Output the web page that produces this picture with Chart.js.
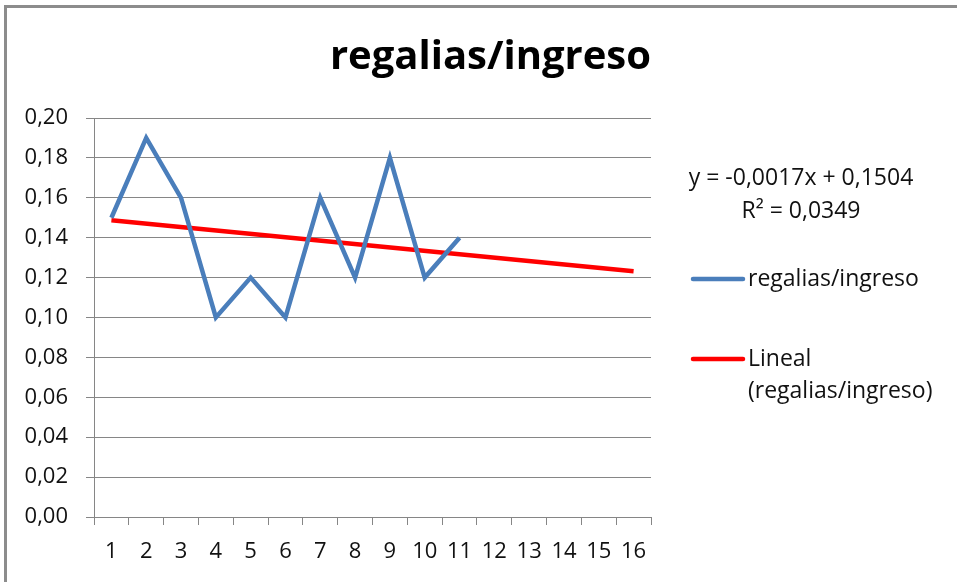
<!DOCTYPE html>
<html>
<head>
<meta charset="utf-8">
<script src="https://cdn.jsdelivr.net/npm/chart.js@4"></script>
<style>
  html, body { margin: 0; padding: 0; background: #fff; }
  #wrap { width: 957px; height: 582px; }
</style>
</head>
<body>
<div id="wrap"><canvas id="lineChart" width="957" height="582"></canvas></div>
<script>
// datos
const categories = ["1","2","3","4","5","6","7","8","9","10","11","12","13","14","15","16"];
const ratioValues = [0.15, 0.19, 0.16, 0.10, 0.12, 0.10, 0.16, 0.12, 0.18, 0.12, 0.14];
const trendCats = ["1", "16"];
const trendValues = [0.1487, 0.1232];
const yTicks = { min: 0, max: 0.20, step: 0.02 };
const equationLines = ["y = -0,0017x + 0,1504", "R² = 0,0349"];

const FONT = "'Open Sans', sans-serif";
const GRAY = "#868686";
const TEXT = "#111";

// marco y leyenda personalizada (estilo Excel)
const excelLegend = {
  id: "excelLegend",
  beforeDraw(chart) {
    const c = chart.ctx;
    c.save();
    c.fillStyle = "#fff";
    c.fillRect(0, 0, chart.width, chart.height);
    c.fillStyle = "#8c8c8c";
    c.fillRect(4, 5, chart.width - 4, 3);
    c.fillRect(4, 5, 3, chart.height - 5);
    c.restore();
  },
  afterDraw(chart) {
    const c = chart.ctx;
    c.save();
    c.font = "23px " + FONT;
    c.fillStyle = TEXT;
    c.textBaseline = "middle";
    c.textAlign = "center";
    c.fillText(equationLines[0], 801, 178);
    c.fillText(equationLines[1], 801, 211);

    const items = [
      { ds: chart.data.datasets[0], y: 279, lines: ["regalias/ingreso"] },
      { ds: chart.data.datasets[1], y: 359, lines: ["Lineal", "(regalias/ingreso)"] },
    ];
    c.textAlign = "left";
    items.forEach(it => {
      c.strokeStyle = it.ds.borderColor;
      c.lineWidth = 4.5;
      c.lineCap = "round";
      c.beginPath();
      c.moveTo(693, it.y);
      c.lineTo(743, it.y);
      c.stroke();
      it.lines.forEach((t, i) => c.fillText(t, 748, it.y + i * 32));
    });
    c.restore();
  }
};

const ctx = document.getElementById("lineChart").getContext("2d");
const chart = new Chart(ctx, {
  type: "line",
  data: {
    labels: categories,
    datasets: [
      {
        label: "regalias/ingreso",
        data: ratioValues,
        borderColor: "#4a7ebb",
        borderWidth: 4.5,
        pointRadius: 0,
        tension: 0,
        borderJoinStyle: "miter",
      },
      {
        label: "Lineal (regalias/ingreso)",
        data: trendCats.map((x, i) => ({ x: x, y: trendValues[i] })),
        borderColor: "#ff0000",
        borderWidth: 4.5,
        pointRadius: 0,
        tension: 0,
      },
    ],
  },
  options: {
    responsive: false,
    animation: false,
    layout: { padding: { left: 0, right: 306, top: 0, bottom: 0 } },
    plugins: {
      legend: { display: false },
      tooltip: { enabled: false },
      title: {
        display: true,
        align: "end",
        text: "regalias/ingreso",
        color: "#000",
        font: { family: FONT, size: 40, weight: "bold" },
        padding: { top: 34, bottom: 36 },
      },
    },
    scales: {
      x: {
        offset: true,
        grid: { offset: true, drawOnChartArea: false, drawTicks: true, tickLength: 8, color: GRAY },
        border: { color: GRAY, width: 1 },
        ticks: { color: TEXT, font: { family: FONT, size: 22 }, padding: 14, maxRotation: 0, autoSkip: false },
        afterFit: s => { s.height = 65; },
      },
      y: {
        min: yTicks.min,
        max: yTicks.max,
        grid: { color: GRAY, tickLength: 8 },
        border: { color: GRAY, width: 1 },
        ticks: {
          stepSize: yTicks.step,
          color: TEXT,
          font: { family: FONT, size: 22 },
          padding: 18,
          callback: v => v.toFixed(2).replace(".", ","),
        },
        afterFit: s => { s.width = 94; },
      },
    },
  },
  plugins: [excelLegend],
});
</script>
</body>
</html>
